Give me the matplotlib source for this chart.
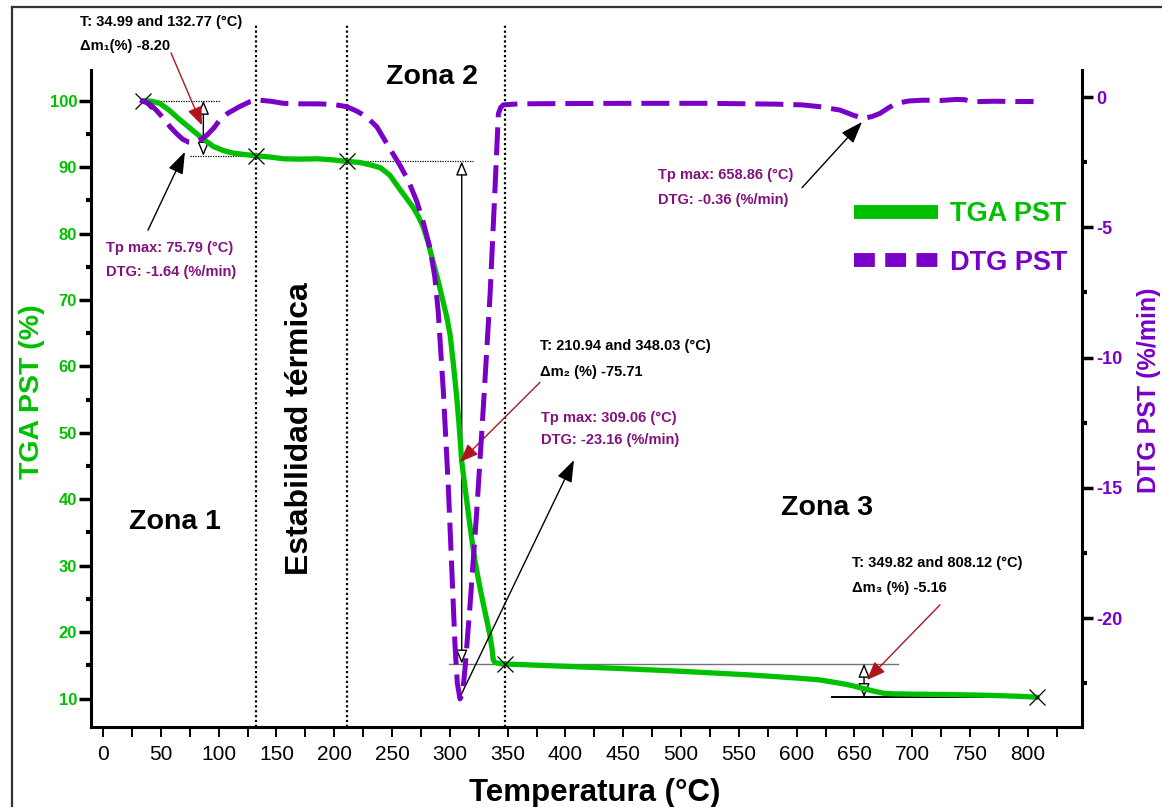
import matplotlib
matplotlib.use("Agg")
import matplotlib.pyplot as plt
from matplotlib.lines import Line2D
from matplotlib.ticker import MultipleLocator

tga_temp = [35, 42, 49, 57, 66, 75, 84, 90, 95.5, 104, 112.6, 122, 132.77, 145, 156,
            170, 185, 198, 210.94, 222, 232, 240, 248, 257, 263, 268.4, 273, 277, 281,
            285.7, 290, 294.4, 297.5, 300.2, 303, 306, 308, 310.3, 313, 316, 319, 321.8,
            325.5, 329, 332, 334.8, 336.5, 337.6, 339, 341, 343.4, 348.03, 370, 400, 450,
            500, 559.7, 603, 620, 637.5, 648, 657.7, 667, 675, 685, 703.9, 730, 761.5,
            790, 808.12]
tga_mass = [100, 99.9, 99.6, 98.6, 97.2, 95.9, 94.6, 93.8, 93.1, 92.5, 92.1, 91.9, 91.7,
            91.5, 91.25, 91.2, 91.25, 91.1, 90.85, 90.7, 90.3, 89.9, 88.8, 86.6, 85.2,
            83.9, 82.5, 81.0, 78.8, 75.6, 72.8, 69.6, 67.3, 64.8, 60.5, 55.3, 51.2, 45.7,
            42.0, 37.9, 34.0, 30.7, 27.2, 24.2, 21.8, 19.4, 17.5, 15.8, 15.45, 15.35,
            15.25, 15.2, 15.05, 14.85, 14.5, 14.1, 13.55, 13.05, 12.8, 12.3, 11.95, 11.5,
            11.1, 10.8, 10.7, 10.65, 10.6, 10.5, 10.35, 10.2]

dtg_temp = [32, 40, 46, 52, 58, 64, 69, 74, 78, 83, 90, 96, 101, 108, 118, 127, 135, 145,
            156, 170, 185, 199, 211, 220, 228, 237, 245, 257, 264, 271.4, 277, 283, 287,
            290, 294.4, 298.7, 301.6, 304.5, 306.5, 308.8, 311, 313.1, 317.5, 323.3, 329,
            334.8, 339.1, 342, 344, 346.3, 360, 400, 460, 520, 580, 605, 620, 637.5, 648,
            657.4, 665, 672, 680, 686.6, 697, 709.6, 725, 738.5, 745, 752.8, 770, 790, 805]
dtg_rate = [-0.12, -0.25, -0.5, -0.8, -1.14, -1.42, -1.62, -1.73, -1.75, -1.68, -1.46,
            -1.18, -0.88, -0.62, -0.37, -0.18, -0.12, -0.16, -0.24, -0.26, -0.26, -0.28,
            -0.37, -0.55, -0.76, -1.15, -1.75, -2.63, -3.2, -4.0, -4.8, -5.82, -6.9, -8.25,
            -11.3, -14.96, -18.0, -21.06, -22.5, -23.1, -22.9, -21.96, -19.5, -15.9, -11.9,
            -7.6, -3.5, -0.64, -0.4, -0.3, -0.26, -0.25, -0.24, -0.24, -0.27, -0.3, -0.37,
            -0.5, -0.68, -0.82, -0.75, -0.63, -0.4, -0.24, -0.15, -0.12, -0.13, -0.09,
            -0.1, -0.18, -0.16, -0.17, -0.17]

# onset / end points of each mass-loss step
mark_temp = [35, 132.77, 210.94, 348.03, 808.12]
mark_mass = [100, 91.7, 90.85, 15.2, 10.2]
zone_bounds = [132.77, 210.94, 348.03]

x_ticks = list(range(0, 801, 50))
tga_ticks = [10, 20, 30, 40, 50, 60, 70, 80, 90, 100]
dtg_ticks = [0, -5, -10, -15, -20]

# === STYLE ===
GREEN = "#00C000"
VIOLET = "#7A00C8"
PURPLE = "#82127F"
DARKRED = "#B0151F"
ARIAL = ["Liberation Sans", "DejaVu Sans"]
plt.rcParams["font.family"] = ARIAL

fig = plt.figure(figsize=(11.62, 8.07), dpi=100)
ax = fig.add_axes([0.0783, 0.0991, 0.8529, 0.8142])
ax2 = ax.twinx()

ax.set_xlim(-10.4, 846.9)
ax.set_ylim(5.71, 104.62)
ax2.set_ylim(-24.18, 1.04)

# === zone separators (reach above the plot area) ===
for t in zone_bounds:
    ax.plot([t, t], [5.71, 111.7], color="black", lw=1.6, ls=(0, (1, 1.2)),
            clip_on=False, zorder=2)

# === step construction lines ===
ax.plot([35, 101], [100, 100], color="black", lw=0.9, ls=(0, (1, 1)))
ax.plot([75, 134], [91.7, 91.7], color="black", lw=0.9, ls=(0, (1, 1)))
ax.plot([210.94, 320.3], [90.85, 90.85], color="black", lw=0.9, ls=(0, (1, 1)))
ax.plot([299.6, 687.7], [15.25, 15.25], color="0.45", lw=1.0)
ax.plot([630.6, 808.12], [10.2, 10.2], color="black", lw=1.4)

dbl = dict(arrowstyle="<|-|>,head_length=0.6,head_width=0.25", fc="white", ec="black",
           lw=1.0, shrinkA=0, shrinkB=0, mutation_scale=14)
ax.annotate("", xy=(86.8, 91.7), xytext=(86.8, 100), arrowprops=dbl)
ax.annotate("", xy=(310.3, 15.25), xytext=(310.3, 90.85), arrowprops=dbl)
ax.annotate("", xy=(658.3, 10.2), xytext=(658.3, 15.25), arrowprops=dbl)

# === curves ===
ax.plot(tga_temp, tga_mass, color=GREEN, lw=3.8, solid_joinstyle="round",
        solid_capstyle="round", zorder=3)
ax.plot(mark_temp, mark_mass, ls="none", marker="x", color="black", ms=11, mew=0.9,
        zorder=5)
ax2.plot(dtg_temp, dtg_rate, color=VIOLET, lw=3.6, dashes=(5.6, 2.0),
         dash_capstyle="butt", dash_joinstyle="round", zorder=3)


# === annotations ===
def note(x, y, lines, color, step=3.6):
    for i, s in enumerate(lines):
        ax.text(x, y - i * step, s, color=color, fontsize=10.5, fontweight="bold",
                ha="left", va="center", clip_on=False)


def pointer(tail, head, color, style):
    ax.annotate("", xy=head, xytext=tail, annotation_clip=False,
                arrowprops=dict(arrowstyle=style, color=color, lw=1.0, shrinkA=0,
                                shrinkB=0, mutation_scale=15))


red_head = "-|>,head_length=0.75,head_width=0.3"
blk_head = "-|>,head_length=0.9,head_width=0.32"

note(-19.9, 111.85, ["T: 34.99 and 132.77 (°C)", "Δm₁(%) -8.20"], "black")
pointer((58.8, 107.2), (85.6, 96.3), DARKRED, red_head)

note(2.6, 77.8, ["Tp max: 75.79 (°C)", "DTG: -1.64 (%/min)"], PURPLE)
pointer((38.9, 80.5), (70.9, 92.3), "black", blk_head)

note(378, 63.1, ["T: 210.94 and 348.03 (°C)", "Δm₂ (%) -75.71"], "black", step=3.9)
pointer((378, 57.6), (308.8, 45.6), DARKRED, red_head)

note(378.9, 52.2, ["Tp max: 309.06 (°C)", "DTG: -23.16 (%/min)"], PURPLE, step=3.3)
pointer((308.8, 10.2), (407.4, 45.9), "black", blk_head)

note(480.1, 88.8, ["Tp max: 658.86 (°C)", "DTG: -0.36 (%/min)"], PURPLE, step=3.7)
pointer((604.7, 86.9), (656.6, 96.8), "black", blk_head)

note(647.9, 30.4, ["T: 349.82 and 808.12 (°C)", "Δm₃ (%) -5.16"], "black", step=3.7)
pointer((724, 24.1), (660.9, 12.8), DARKRED, red_head)

# zone labels
ax.text(62.3, 36.6, "Zona 1", fontsize=20.5, fontweight="bold", ha="center", va="center")
ax.text(285, 103.6, "Zona 2", fontsize=20.5, fontweight="bold", ha="center", va="center")
ax.text(626.3, 38.7, "Zona 3", fontsize=20.5, fontweight="bold", ha="center", va="center")
ax.text(170.4, 50.7, "Estabilidad térmica", fontsize=23, fontweight="bold", rotation=90,
        ha="center", va="center")

# === axes styling ===
ax.spines["top"].set_visible(False)
ax.spines["right"].set_visible(False)
for side in ["left", "bottom", "top"]:
    ax2.spines[side].set_visible(False)
ax.spines["left"].set_linewidth(2.2)
ax.spines["bottom"].set_linewidth(2.2)
ax2.spines["right"].set_linewidth(2.2)

ax.set_xticks(x_ticks, labels=[str(v) for v in x_ticks], fontsize=15)
ax.xaxis.set_minor_locator(MultipleLocator(25))
ax.tick_params(axis="x", which="both", direction="out", length=7, width=1.4, pad=6)

ax.set_yticks(tga_ticks, labels=[str(v) for v in tga_ticks], fontweight="bold",
              fontsize=12, color=GREEN)
ax.yaxis.set_minor_locator(MultipleLocator(5))
ax.tick_params(axis="y", which="major", direction="out", length=9, width=2.5, pad=1)
ax.tick_params(axis="y", which="minor", direction="out", length=3.5, width=3)

ax2.set_yticks(dtg_ticks, labels=[str(v) for v in dtg_ticks], fontweight="bold",
               fontsize=13, color=VIOLET)
ax2.yaxis.set_minor_locator(MultipleLocator(2.5))
ax2.tick_params(axis="y", which="major", direction="out", length=8, width=2.5, pad=2)
ax2.tick_params(axis="y", which="minor", direction="out", length=3.5, width=3)

ax.set_xlabel("Temperatura (°C)", fontsize=22.5, fontweight="bold")
ax.xaxis.set_label_coords(0.508, -0.077)
ax.set_ylabel("TGA PST (%)", fontsize=20.5, fontweight="bold", color=GREEN)
ax.yaxis.set_label_coords(-0.046, 0.511)
ax2.set_ylabel("DTG PST (%/min)", fontsize=18, fontweight="bold", color=VIOLET)
ax2.yaxis.set_label_coords(1.0555, 0.513)

# === legend ===
h_tga = Line2D([], [], color=GREEN, lw=10, solid_capstyle="butt")
h_dtg = Line2D([], [], color=VIOLET, lw=10, dashes=(1.5, 0.75), dash_capstyle="butt")
ax2.legend([h_tga, h_dtg], ["TGA PST", "DTG PST"], loc="upper left",
           bbox_to_anchor=(0.77, 0.80), frameon=False, handlelength=3.1,
           handletextpad=0.45, labelspacing=0.82, borderpad=0, borderaxespad=0,
           prop=dict(family=ARIAL, weight="bold", size=19.5), labelcolor=[GREEN, VIOLET])

# outer frame (top and left edge of the original figure box)
fig.add_artist(Line2D([12 / 1162, 1], [1 - 7 / 807, 1 - 7 / 807], color="#333333", lw=1.6,
                      transform=fig.transFigure))
fig.add_artist(Line2D([12 / 1162, 12 / 1162], [0, 1 - 7 / 807], color="#333333", lw=1.6,
                      transform=fig.transFigure))

fig.savefig("out.png", dpi=100)
